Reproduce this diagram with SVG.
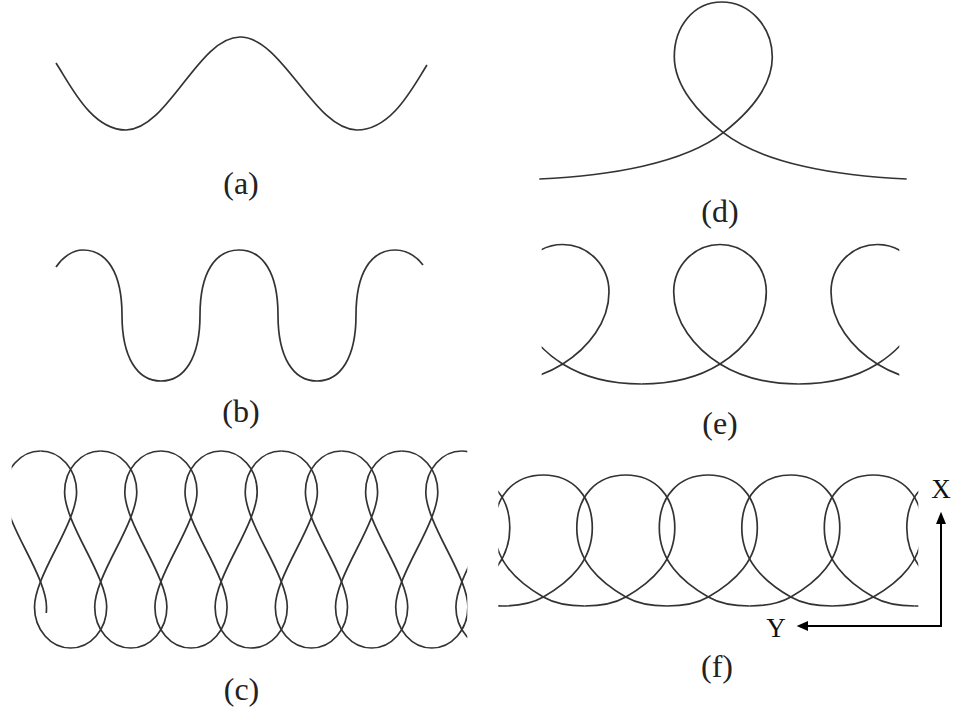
<svg xmlns="http://www.w3.org/2000/svg" xmlns:xlink="http://www.w3.org/1999/xlink" width="953" height="712" viewBox="0 0 953 712">
<style>
.c{fill:none;stroke:#333;stroke-width:1.7;stroke-linejoin:round}
.lbl{font-family:"Liberation Serif","DejaVu Serif",serif;font-size:32px;fill:#222;text-anchor:middle}
.ax{font-family:"Liberation Serif","DejaVu Serif",serif;font-size:27px;fill:#111;text-anchor:middle}
.arr{fill:none;stroke:#000;stroke-width:2}
.head{fill:#000}
</style>
<defs>
<clipPath id="clipC"><rect x="11.7" y="430" width="455.6" height="240"/></clipPath>
<clipPath id="clipE"><rect x="541.7" y="230" width="357.6" height="170"/></clipPath>
<clipPath id="clipF"><rect x="498.3" y="465" width="420" height="150"/></clipPath>
<path id="perC" d="M0,451 C20,451 36.1,469.4 36.1,492 C36.1,507 26,528.1 15.05,549.5 C4.1,570.9 -6,592 -6,607 C-6,629.6 10.1,648 30.1,648 C50.1,648 66.2,629.6 66.2,607 C66.2,592 56.1,570.9 45.15,549.5 C34.2,528.1 24.1,507 24.1,492 C24.1,469.4 40.2,451 60.2,451"/>
<path id="perE" d="M-78.65,384 C-51.25,384 -23.2,378.5 0,364 C25.4,348.1 46.3,322 46.3,292 C46.3,265.8 25.6,244.5 0,244.5 C-25.6,244.5 -46.3,265.8 -46.3,292 C-46.3,322 -25.4,348.1 0,364 C23.2,378.5 51.25,384 78.65,384"/>
<path id="perF" d="M-41.25,606 C-27,606 -12.3,604.1 0,597 C27.7,581 49,560 49,528 C49,496.2 29.4,475 0,475 C-29.4,475 -49,496.2 -49,528 C-49,560 -27.7,581 0,597 C12.3,604.1 27,606 41.25,606"/>
</defs>

<g id="curve-a">
<path class="c" d="M56,63 C69.8,83.8 91,130 126,130 C167.5,130 198.5,37 240,37 C282.6,37 314.4,130 357,130 C392,130 413.5,86 427,65"/>
<text class="lbl" x="241" y="194">(a)</text>
</g>

<g id="curve-b">
<path class="c" d="M56,267 C62,258 72,250 83,250 C107,250 122,273 122,315 C122,357 137,381 161,381 C185,381 200,357 200,315 C200,273 215,250 239,250 C263,250 278,273 278,315 C278,357 293,381 317,381 C341,381 356,357 356,315 C356,273 371,250 395,250 C406,250 416,256 423,265"/>
<text class="lbl" x="241" y="422">(b)</text>
</g>

<g id="curve-c">
<g clip-path="url(#clipC)">
<path class="c" transform="translate(-19.7,0)" d="M66,613 C66.2,611 66.2,609 66.2,607 C66.2,592 56.1,570.9 45.15,549.5 C34.2,528.1 24.1,507 24.1,492 C24.1,469.4 40.2,451 60.2,451"/>
<use class="c" xlink:href="#perC" x="40.5"/>
<use class="c" xlink:href="#perC" x="100.7"/>
<use class="c" xlink:href="#perC" x="160.9"/>
<use class="c" xlink:href="#perC" x="221.1"/>
<use class="c" xlink:href="#perC" x="281.3"/>
<use class="c" xlink:href="#perC" x="341.5"/>
<use class="c" xlink:href="#perC" x="401.7"/>
<use class="c" xlink:href="#perC" x="461.9"/>
</g>
<text class="lbl" x="241.5" y="700">(c)</text>
</g>

<g id="curve-d">
<path class="c" d="M539.3,179 C609,176 683.9,163.5 723.3,132.7 C746.9,114.2 772.3,87 772.3,57 C772.3,26.6 749.6,2 721.7,2 C693.8,2 674.3,26.5 674.3,56.7 C674.3,86.7 699.7,114.2 723.3,132.7 C762.7,163.5 836.7,176 906.7,179"/>
<text class="lbl" x="720" y="222">(d)</text>
</g>

<g id="curve-e">
<g clip-path="url(#clipE)">
<use class="c" xlink:href="#perE" x="562.7"/>
<use class="c" xlink:href="#perE" x="720"/>
<use class="c" xlink:href="#perE" x="877.3"/>
</g>
<text class="lbl" x="720" y="434">(e)</text>
</g>

<g id="curve-f">
<g clip-path="url(#clipF)">
<use class="c" xlink:href="#perF" x="460.8"/>
<use class="c" xlink:href="#perF" x="543.3"/>
<use class="c" xlink:href="#perF" x="625.8"/>
<use class="c" xlink:href="#perF" x="708.3"/>
<use class="c" xlink:href="#perF" x="790.8"/>
<use class="c" xlink:href="#perF" x="873.3"/>
<use class="c" xlink:href="#perF" x="955.8"/>
</g>
<text class="lbl" x="717" y="677">(f)</text>
</g>

<g id="axes">
<path class="arr" d="M941,522 L941,626 L806,626"/>
<polygon class="head" points="941,511.7 936,524 946,524"/>
<polygon class="head" points="796.7,626 808,621 808,631"/>
<text class="ax" x="941" y="498">X</text>
<text class="ax" x="776" y="636.5">Y</text>
</g>
</svg>
